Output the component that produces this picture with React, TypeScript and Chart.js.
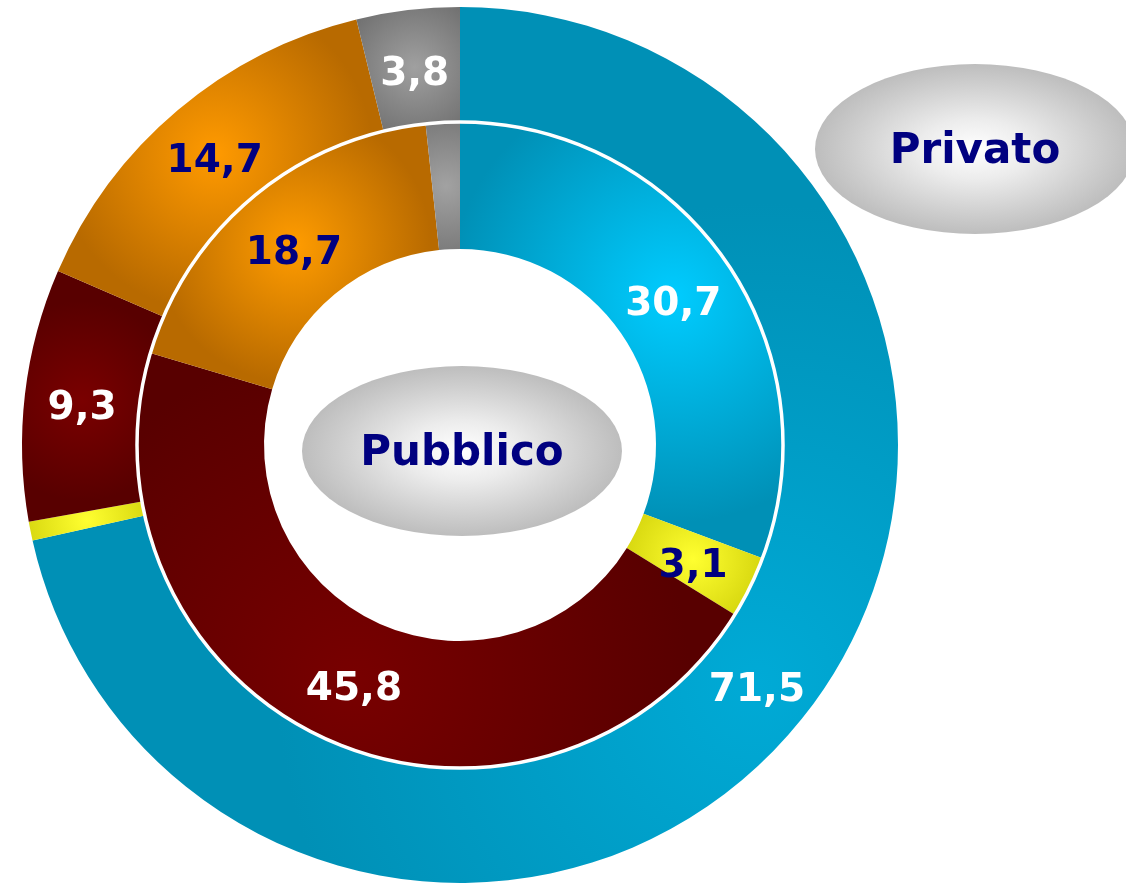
import React, { useEffect, useRef } from "react";
import { Chart, registerables } from "chart.js";

Chart.register(...registerables);

// ---- data ----
const categories = ["Segmento 1", "Segmento 2", "Segmento 3", "Segmento 4", "Segmento 5"];
const ringNames = ["Privato", "Pubblico"];
const privatoValues = [71.5, 0.7, 9.3, 14.7, 3.8];
const pubblicoValues = [30.7, 3.1, 45.8, 18.7, 1.7];
const privatoLabels = ["71,5", "", "9,3", "14,7", "3,8"];
const pubblicoLabels = ["30,7", "3,1", "45,8", "18,7", ""];

// ---- styles ----
const outerLight = ["#00aad6", "#ffff30", "#7a0000", "#ff9a00", "#a0a0a0"];
const innerLight = ["#00ccff", "#ffff30", "#780000", "#ff9c00", "#a2a2a2"];
const darkColors = ["#0090b6", "#c4c400", "#580000", "#b86a00", "#666666"];
const labelColors = ["#ffffff", "#000080", "#ffffff", "#000080", "#ffffff"];
const FONT = "'DejaVu Sans', Verdana, sans-serif";

function segmentFill(c: any) {
  const i = c.dataIndex;
  const chart = c.chart;
  const area = chart.chartArea;
  const meta = chart.getDatasetMeta(c.datasetIndex);
  const ctrl: any = meta && meta.controller;
  if (!area || !ctrl || !ctrl.outerRadius) return darkColors[i];
  const data = c.dataset.data as number[];
  const total = data.reduce((a, b) => a + b, 0);
  let before = 0;
  for (let k = 0; k < i; k++) before += data[k];
  const mid = -Math.PI / 2 + (2 * Math.PI * (before + data[i] / 2)) / total;
  const ro = ctrl.outerRadius;
  const ri = ctrl.innerRadius;
  const rm = (ro + ri) / 2;
  const cx = (area.left + area.right) / 2;
  const cy = (area.top + area.bottom) / 2;
  const x = cx + rm * Math.cos(mid);
  const y = cy + rm * Math.sin(mid);
  const arcLen = (2 * Math.PI * rm * data[i]) / total;
  const rad = Math.max((ro - ri) * 0.8, Math.min(arcLen * 0.45, 480));
  const g = chart.ctx.createRadialGradient(x, y, 0, x, y, rad);
  const light = c.datasetIndex === 0 ? outerLight : innerLight;
  g.addColorStop(0, light[i]);
  g.addColorStop(1, darkColors[i]);
  return g;
}

const ringSeparator = {
  id: "ringSeparator",
  afterDatasetsDraw(chart: any) {
    const meta = chart.getDatasetMeta(1);
    const ctrl: any = meta.controller;
    const area = chart.chartArea;
    const cx = (area.left + area.right) / 2;
    const cy = (area.top + area.bottom) / 2;
    const ctx = chart.ctx;
    ctx.save();
    ctx.beginPath();
    ctx.arc(cx, cy, ctrl.outerRadius, 0, Math.PI * 2);
    ctx.strokeStyle = "#ffffff";
    ctx.lineWidth = 3.5;
    ctx.stroke();
    ctx.restore();
  },
};

const arcLabels = {
  id: "arcLabels",
  afterDatasetsDraw(chart: any) {
    const ctx = chart.ctx;
    const size = 39;
    [privatoLabels, pubblicoLabels].forEach((labels, di) => {
      const meta = chart.getDatasetMeta(di);
      meta.data.forEach((arc: any, i: number) => {
        if (!labels[i]) return;
        const p = arc.getCenterPoint();
        ctx.save();
        ctx.font = `bold ${size}px ${FONT}`;
        ctx.fillStyle = labelColors[i];
        ctx.textAlign = "center";
        ctx.textBaseline = "alphabetic";
        ctx.fillText(labels[i], p.x, p.y + size * 0.36 + 4);
        ctx.restore();
      });
    });
  },
};

const ellipseStyle: React.CSSProperties = {
  position: "fixed",
  width: 320,
  height: 170,
  borderRadius: "50%",
  background:
    "radial-gradient(ellipse at center, #ffffff 0%, #ececec 25%, #cdcdcd 55%, #b4b4b4 80%, #adadad 100%)",
  display: "flex",
  alignItems: "center",
  justifyContent: "center",
  fontFamily: FONT,
  fontWeight: "bold",
  fontSize: 42,
  color: "#000080",
  lineHeight: 1,
};

export default function App() {
  const ref = useRef<HTMLCanvasElement>(null);

  useEffect(() => {
    if (!ref.current) return;
    const chart = new Chart(ref.current, {
      type: "doughnut",
      data: {
        labels: categories,
        datasets: [
          {
            label: ringNames[0],
            data: privatoValues,
            backgroundColor: segmentFill as any,
            borderWidth: 0,
            weight: 115,
          },
          {
            label: ringNames[1],
            data: pubblicoValues,
            backgroundColor: segmentFill as any,
            borderWidth: 0,
            weight: 127,
          },
        ],
      },
      options: {
        responsive: false,
        animation: false,
        cutout: 196,
        layout: { padding: { left: 22, right: 228, top: 7, bottom: 0 } },
        plugins: {
          legend: { display: false },
          tooltip: { enabled: false },
        },
      },
      plugins: [ringSeparator, arcLabels],
    });
    return () => chart.destroy();
  }, []);

  return (
    <div style={{ position: "fixed", left: 0, top: 0, width: 1126, height: 883, overflow: "hidden", background: "#fff" }}>
      <canvas ref={ref} width={1126} height={883} style={{ position: "absolute", left: 0, top: 0, width: 1126, height: 883 }} />
      <div style={{ ...ellipseStyle, left: 302, top: 366 }}>{ringNames[1]}</div>
      <div style={{ ...ellipseStyle, left: 815, top: 64 }}>{ringNames[0]}</div>
    </div>
  );
}
